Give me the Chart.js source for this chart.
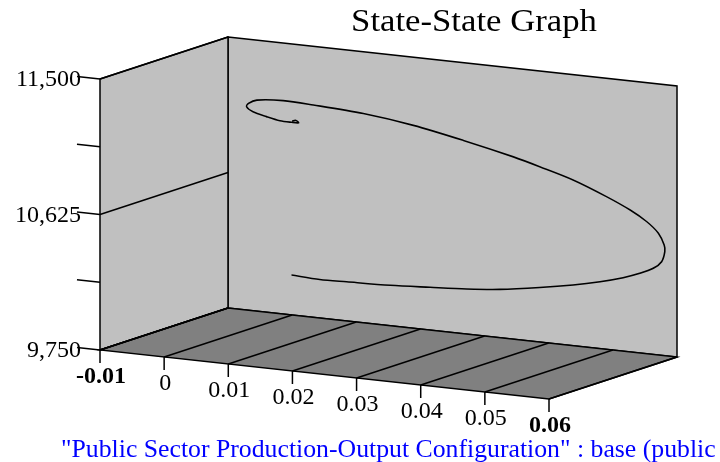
<!DOCTYPE html>
<html>
<head>
<meta charset="utf-8">
<script src="https://cdn.jsdelivr.net/npm/chart.js@4.4.1/dist/chart.umd.min.js"></script>
<style>
html,body{margin:0;padding:0;background:#fff;}
#c{display:block;}
</style>
</head>
<body>
<canvas id="c" width="720" height="462"></canvas>
<script>
// ---- data ----
const chartTitle = 'State-State Graph';
const footerText = '"Public Sector Production-Output Configuration" : base (public';
const xValues = [-0.0001, 0.0043, 0.0085, 0.0153, 0.0215, 0.0272, 0.0324, 0.0386, 0.0438, 0.0480,
  0.0516, 0.0542, 0.0563, 0.0576, 0.0581, 0.0580, 0.0571, 0.0553, 0.0527, 0.0490,
  0.0438, 0.0386, 0.0345, 0.0267, 0.0189, 0.0111, 0.0033, -0.0014, -0.0055, -0.0068,
  -0.0071, -0.0061, -0.0040, -0.0019, -0.0001, 0.0010, 0.0006, 0.0000];
const yValues = [10008, 9999, 10003, 10011, 10026, 10041, 10062, 10102, 10142, 10182,
  10224, 10264, 10306, 10355, 10422, 10464, 10536, 10602, 10666, 10736,
  10820, 10882, 10927, 10998, 11060, 11101, 11121, 11128, 11113, 11086,
  11063, 11035, 11013, 10996, 10994, 10996, 11009, 11003];
const xTicks = [-0.01, 0, 0.01, 0.02, 0.03, 0.04, 0.05, 0.06];
const xTickLabels = ['-0.01', '0', '0.01', '0.02', '0.03', '0.04', '0.05', '0.06'];
const yMajorTicks = [9750, 10625, 11500];
const yTickLabels = ['9,750', '10,625', '11,500'];
const yMinorTicks = [10187.5, 11062.5];

// ---- style / projection constants ----
const DEPTH_DX = -128, DEPTH_DY = 42;
const SHEAR = 49 / 449;
const WALL = '#c0c0c0', FLOOR = '#808080';
const SERIF = '"Liberation Serif", "Times New Roman", serif';

function P(chart, xv, yv, depth) {
  const xs = chart.scales.x, ys = chart.scales.y;
  const bx = xs.getPixelForValue(xv);
  const by = ys.getPixelForValue(yv) + SHEAR * (bx - chart.chartArea.left);
  return [bx + depth * DEPTH_DX, by + depth * DEPTH_DY];
}

function poly(ctx, pts, fill) {
  ctx.beginPath();
  ctx.moveTo(pts[0][0], pts[0][1]);
  for (let i = 1; i < pts.length; i++) ctx.lineTo(pts[i][0], pts[i][1]);
  ctx.closePath();
  ctx.fillStyle = fill;
  ctx.fill();
  ctx.stroke();
}
function line(ctx, a, b) {
  ctx.beginPath();
  ctx.moveTo(a[0], a[1]);
  ctx.lineTo(b[0], b[1]);
  ctx.stroke();
}
function stretchedText(ctx, txt, x, y, font, sx, align, base, color) {
  ctx.save();
  ctx.font = font;
  ctx.fillStyle = color;
  ctx.textBaseline = base;
  ctx.textAlign = 'left';
  const w = ctx.measureText(txt).width * sx;
  let x0 = x;
  if (align === 'center') x0 = x - w / 2;
  else if (align === 'right') x0 = x - w;
  ctx.translate(x0, y);
  ctx.scale(sx, 1);
  ctx.fillText(txt, 0, 0);
  ctx.restore();
}

const box3d = {
  id: 'box3d',
  beforeDatasetsDraw(chart) {
    const ctx = chart.ctx;
    const xs = chart.scales.x, ys = chart.scales.y;
    const x0 = xs.min, x1 = xs.max, y0 = ys.min, y1 = ys.max;
    ctx.save();
    ctx.strokeStyle = '#000';
    ctx.lineWidth = 1.5;
    ctx.lineJoin = 'miter';
    // back wall
    poly(ctx, [P(chart, x0, y1, 0), P(chart, x1, y1, 0), P(chart, x1, y0, 0), P(chart, x0, y0, 0)], WALL);
    // left wall
    poly(ctx, [P(chart, x0, y1, 1), P(chart, x0, y1, 0), P(chart, x0, y0, 0), P(chart, x0, y0, 1)], WALL);
    // floor
    poly(ctx, [P(chart, x0, y0, 1), P(chart, x0, y0, 0), P(chart, x1, y0, 0), P(chart, x1, y0, 1)], FLOOR);
    // floor grid
    xTicks.forEach(v => line(ctx, P(chart, v, y0, 1), P(chart, v, y0, 0)));
    // left wall grid
    yMajorTicks.forEach(v => line(ctx, P(chart, x0, v, 1), P(chart, x0, v, 0)));
    // x ticks + labels
    xTicks.forEach((v, i) => {
      const p = P(chart, v, y0, 1);
      line(ctx, p, [p[0], p[1] + 13]);
      const bold = (i === 0 || i === xTicks.length - 1);
      stretchedText(ctx, xTickLabels[i], p[0] + 1, p[1] + 27,
        (bold ? 'bold ' : '') + '24px ' + SERIF, 1.0, 'center', 'middle', '#000');
    });
    // y ticks + labels
    yMajorTicks.concat(yMinorTicks).forEach(v => {
      const p = P(chart, x0, v, 1);
      line(ctx, p, [p[0] - 23, p[1] - 23 * SHEAR]);
    });
    yMajorTicks.forEach((v, i) => {
      const p = P(chart, x0, v, 1);
      stretchedText(ctx, yTickLabels[i], p[0] - 19, p[1] + 1, '24px ' + SERIF, 1.0, 'right', 'middle', '#000');
    });
    // title + footer
    stretchedText(ctx, chartTitle, 474, 31, '31px ' + SERIF, 1.12, 'center', 'alphabetic', '#000');
    stretchedText(ctx, footerText, 61, 457, '25px ' + SERIF, 1.03, 'left', 'alphabetic', '#0000ff');
    ctx.restore();
  },
  beforeDatasetDraw(chart) {
    const ctx = chart.ctx;
    ctx.save();
    ctx.transform(1, SHEAR, 0, 1, 0, -SHEAR * chart.chartArea.left);
  },
  afterDatasetDraw(chart) {
    chart.ctx.restore();
  }
};

new Chart(document.getElementById('c'), {
  type: 'scatter',
  data: {
    datasets: [{
      label: 'State-State',
      data: xValues.map((x, i) => ({x: x, y: yValues[i]})),
      showLine: true,
      borderColor: '#000',
      borderWidth: 1.6,
      pointRadius: 0,
      tension: 0.3,
      clip: false
    }]
  },
  options: {
    responsive: false,
    devicePixelRatio: 1,
    animation: false,
    layout: {padding: {left: 228, right: 43, top: 37, bottom: 154}},
    scales: {
      x: {type: 'linear', min: -0.01, max: 0.06, display: false},
      y: {type: 'linear', min: 9750, max: 11500, display: false}
    },
    plugins: {legend: {display: false}, tooltip: {enabled: false}, title: {display: false}}
  },
  plugins: [box3d]
});
</script>
</body>
</html>
